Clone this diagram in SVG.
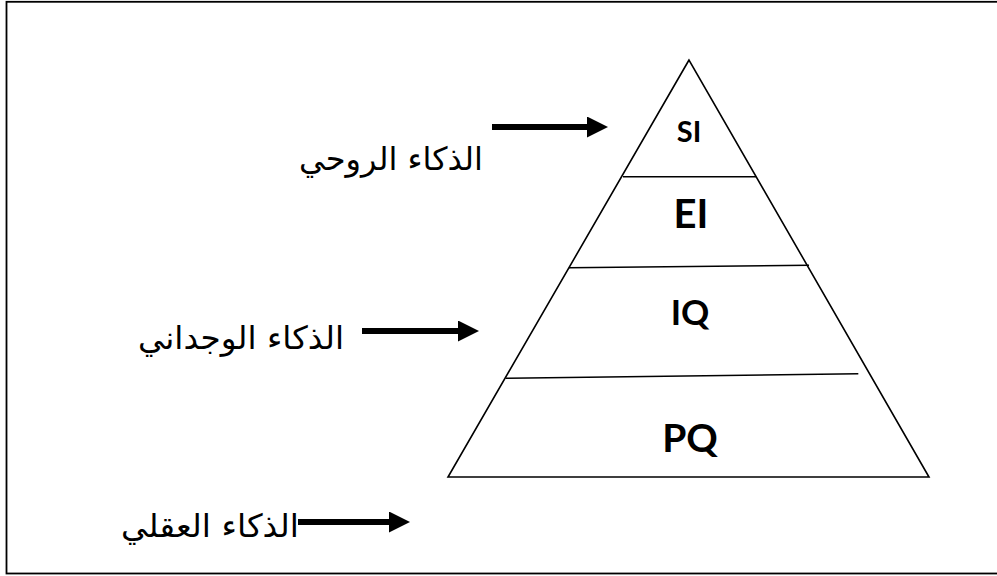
<svg xmlns="http://www.w3.org/2000/svg" width="997" height="576" viewBox="0 0 997 576">
<style>
.frame{fill:none;stroke:#000;stroke-width:1.8}
.edge{fill:none;stroke:#000;stroke-width:1.6}
.arr{stroke:#000;stroke-width:6;fill:none}
.lat{font-family:Lato,"Open Sans",sans-serif;font-weight:bold;fill:#000;text-anchor:middle}
.ar{font-family:"DejaVu Sans",sans-serif;font-size:32px;fill:#000;text-anchor:middle}
</style>
<defs>
<marker id="head" markerUnits="userSpaceOnUse" markerWidth="21" markerHeight="21" refX="0" refY="10.5" orient="auto" viewBox="0 0 21 21">
<path d="M0,0 L21,10.5 L0,21 Z" fill="#000"/>
</marker>
</defs>
<rect width="997" height="576" fill="#fff"/>
<rect class="frame" x="6.5" y="1.8" width="1000" height="571.7"/>
<g id="pyramid">
<polygon class="edge" points="689,60 448,477 929,477"/>
<line class="edge" x1="623" y1="176.7" x2="756" y2="176.7"/>
<line class="edge" x1="569" y1="267.7" x2="809" y2="265.3"/>
<line class="edge" x1="505.7" y1="378.3" x2="858.3" y2="373.7"/>
</g>
<g id="SI"><text class="lat" x="689" y="141.5" font-size="29">SI</text></g>
<g id="EI"><text class="lat" x="691" y="228" font-size="40">EI</text></g>
<g id="IQ"><text class="lat" x="690" y="325" font-size="35">IQ</text></g>
<g id="PQ"><text class="lat" x="690" y="452" font-size="39">PQ</text></g>
<g id="connectors">
<line class="arr" x1="492" y1="127" x2="587" y2="127" marker-end="url(#head)"/>
<line class="arr" x1="362" y1="331" x2="458" y2="331" marker-end="url(#head)"/>
<line class="arr" x1="298" y1="522" x2="389" y2="522" marker-end="url(#head)"/>
</g>
<g id="label-spiritual"><text class="ar" x="391" y="170" textLength="184" lengthAdjust="spacingAndGlyphs">الذكاء الروحي</text></g>
<g id="label-emotional"><text class="ar" x="241" y="349" textLength="206" lengthAdjust="spacingAndGlyphs">الذكاء الوجداني</text></g>
<g id="label-mental"><text class="ar" x="210" y="537" textLength="178" lengthAdjust="spacingAndGlyphs">الذكاء العقلي</text></g>
</svg>
